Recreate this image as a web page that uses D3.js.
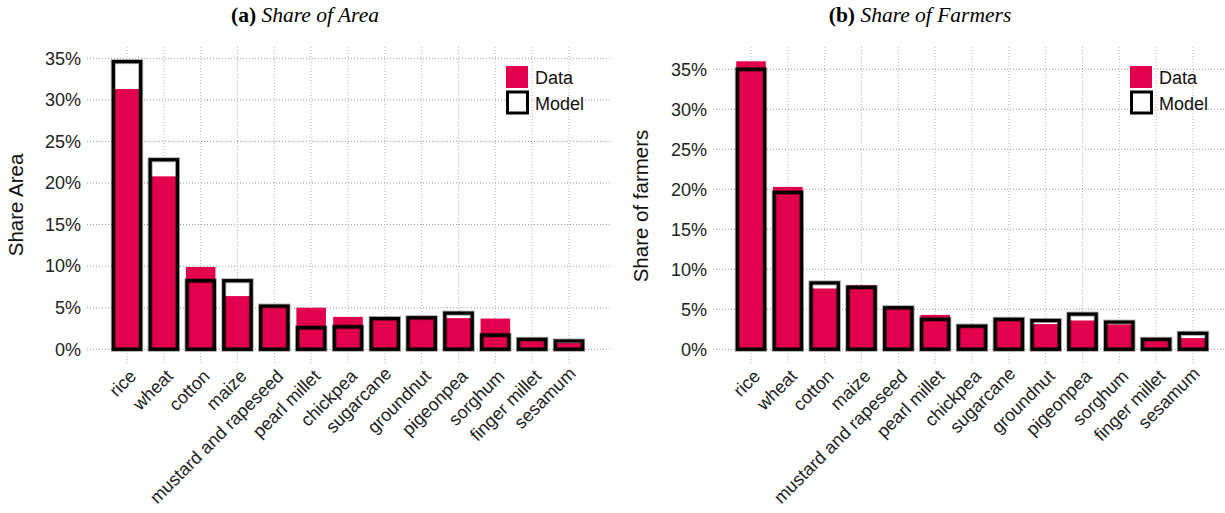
<!DOCTYPE html>
<html>
<head>
<meta charset="utf-8">
<script src="https://cdn.jsdelivr.net/npm/d3@7"></script>
<style>
  body { margin: 0; background: #fff; }
  svg { display: block; }
</style>
</head>
<body>
<div id="chart"></div>
<script>
// data (percent)
var crops = ["rice", "wheat", "cotton", "maize", "mustard and rapeseed", "pearl millet",
  "chickpea", "sugarcane", "groundnut", "pigeonpea", "sorghum", "finger millet", "sesamum"];
var areaData  = [31.3, 20.8, 9.9, 6.4, 5.2, 5.0, 3.9, 3.8, 3.8, 3.75, 3.7, 1.1, 0.75];
var areaModel = [34.6, 22.8, 8.25, 8.25, 5.2, 2.6, 2.7, 3.7, 3.8, 4.35, 1.7, 1.2, 1.0];
var farmData  = [36.0, 20.3, 7.6, 8.0, 5.1, 4.3, 2.9, 3.7, 3.15, 3.6, 3.1, 1.1, 1.4];
var farmModel = [35.0, 19.6, 8.3, 7.75, 5.2, 3.75, 2.9, 3.75, 3.6, 4.4, 3.4, 1.25, 2.0];
var yTicks = [0, 5, 10, 15, 20, 25, 30, 35];
var legendLabels = ["Data", "Model"];

var width = 1225, height = 513;
var red = "#e2004e";
var sans = "'Liberation Sans', Arial, sans-serif";

var svg = d3.select("#chart").append("svg")
    .attr("width", width)
    .attr("height", height);

// top of the label box sits on the tick, like hjust=1/vjust=1 in R:
// labels without tall letters sit a bit closer to the axis
function ascent(s) {
  return /[bdfhiklt]/.test(s) ? 0.73 : 0.53;
}

function panel(opt) {
  var g = svg.append("g");

  var x = d3.scalePoint()
      .domain(crops)
      .range([opt.x0, opt.x1]);
  var bw = x.step() * 0.83;

  var y = d3.scaleLinear()
      .domain([0, 35])
      .range([349.3, opt.yTop]);

  // grid
  g.append("g")
    .selectAll("line")
    .data(yTicks)
    .join("line")
      .attr("x1", opt.gridLeft)
      .attr("x2", opt.gridRight)
      .attr("y1", d => y(d))
      .attr("y2", d => y(d))
      .attr("stroke", "#9a9a9a")
      .attr("stroke-width", 1)
      .attr("stroke-dasharray", "1,2");
  g.append("g")
    .selectAll("line")
    .data(crops)
    .join("line")
      .attr("x1", d => x(d))
      .attr("x2", d => x(d))
      .attr("y1", 47)
      .attr("y2", 363)
      .attr("stroke", "#b5b5b5")
      .attr("stroke-width", 1)
      .attr("stroke-dasharray", "1,2");

  // y axis
  var yAxis = g.append("g")
      .attr("transform", `translate(${opt.gridLeft},0)`)
      .call(d3.axisLeft(y).tickValues(yTicks).tickSize(0).tickPadding(6).tickFormat(d => d + "%"));
  yAxis.select(".domain").remove();
  yAxis.selectAll("text")
      .attr("font-family", sans)
      .attr("font-size", 18)
      .attr("fill", "#222");

  // x labels
  g.append("g")
    .selectAll("text")
    .data(crops)
    .join("text")
      .attr("transform", d => `translate(${x(d) + 1},${368}) rotate(-45)`)
      .attr("text-anchor", "end")
      .attr("dy", d => ascent(d) + "em")
      .attr("font-family", sans)
      .attr("font-size", 18)
      .attr("fill", "#222")
      .text(d => d);

  // bars: model white fill, data red, model outline on top
  var rows = crops.map((c, i) => ({crop: c, data: opt.data[i], model: opt.model[i]}));
  g.append("g")
    .selectAll("rect")
    .data(rows)
    .join("rect")
      .attr("x", d => x(d.crop) - bw / 2 + 1.6)
      .attr("width", bw - 3.2)
      .attr("y", d => y(d.model))
      .attr("height", d => y(0) - y(d.model))
      .attr("fill", "#fff");
  g.append("g")
    .selectAll("rect")
    .data(rows)
    .join("rect")
      .attr("x", d => x(d.crop) - bw / 2 + 0.5)
      .attr("width", bw - 1)
      .attr("y", d => y(d.data))
      .attr("height", d => y(0) - y(d.data))
      .attr("fill", red);
  g.append("g")
    .selectAll("rect")
    .data(rows)
    .join("rect")
      .attr("x", d => x(d.crop) - bw / 2 + 1.6)
      .attr("width", bw - 3.2)
      .attr("y", d => y(d.model))
      .attr("height", d => y(0) - y(d.model))
      .attr("fill", "none")
      .attr("stroke", "#000")
      .attr("stroke-opacity", 0.35)
      .attr("stroke-width", 5);
  g.append("g")
    .selectAll("rect")
    .data(rows)
    .join("rect")
      .attr("x", d => x(d.crop) - bw / 2 + 1.6)
      .attr("width", bw - 3.2)
      .attr("y", d => y(d.model))
      .attr("height", d => y(0) - y(d.model))
      .attr("fill", "none")
      .attr("stroke", "#000")
      .attr("stroke-width", 3.2);

  // legend
  var lg = g.append("g").attr("transform", `translate(${opt.legendX},66)`);
  lg.append("rect")
      .attr("x", 0).attr("y", 0).attr("width", 22).attr("height", 22)
      .attr("fill", red);
  lg.append("rect")
      .attr("x", 1.5).attr("y", 26).attr("width", 20).attr("height", 21)
      .attr("fill", "#fff")
      .attr("stroke", "#000")
      .attr("stroke-width", 3);
  lg.selectAll("text")
    .data(legendLabels)
    .join("text")
      .attr("x", 29)
      .attr("y", (d, i) => 18 + i * 26)
      .attr("font-family", sans)
      .attr("font-size", 18)
      .attr("fill", "#111")
      .text(d => d);

  // axis title
  g.append("text")
      .attr("transform", `translate(${opt.ylabX},${opt.ylabY}) rotate(-90)`)
      .attr("text-anchor", "middle")
      .attr("font-family", sans)
      .attr("font-size", 20.5)
      .attr("fill", "#111")
      .text(opt.ylab);

  // panel title
  var t = g.append("text")
      .attr("x", opt.titleX)
      .attr("y", 22)
      .attr("text-anchor", "middle")
      .attr("font-family", "'Liberation Serif', 'DejaVu Serif', serif")
      .attr("font-size", 21.5)
      .attr("fill", "#000");
  t.append("tspan").attr("font-weight", "bold").text(opt.tag + " ");
  t.append("tspan").attr("font-style", "italic").text(opt.title);
}

panel({
  x0: 127, x1: 569, yTop: 58.3, gridLeft: 87, gridRight: 612,
  data: areaData, model: areaModel, legendX: 506,
  ylab: "Share Area", ylabX: 23, ylabY: 205,
  tag: "(a)", title: "Share of Area", titleX: 305
});
panel({
  x0: 751, x1: 1193, yTop: 69.3, gridLeft: 713, gridRight: 1225,
  data: farmData, model: farmModel, legendX: 1130,
  ylab: "Share of farmers", ylabX: 648, ylabY: 206,
  tag: "(b)", title: "Share of Farmers", titleX: 920
});
</script>
</body>
</html>
